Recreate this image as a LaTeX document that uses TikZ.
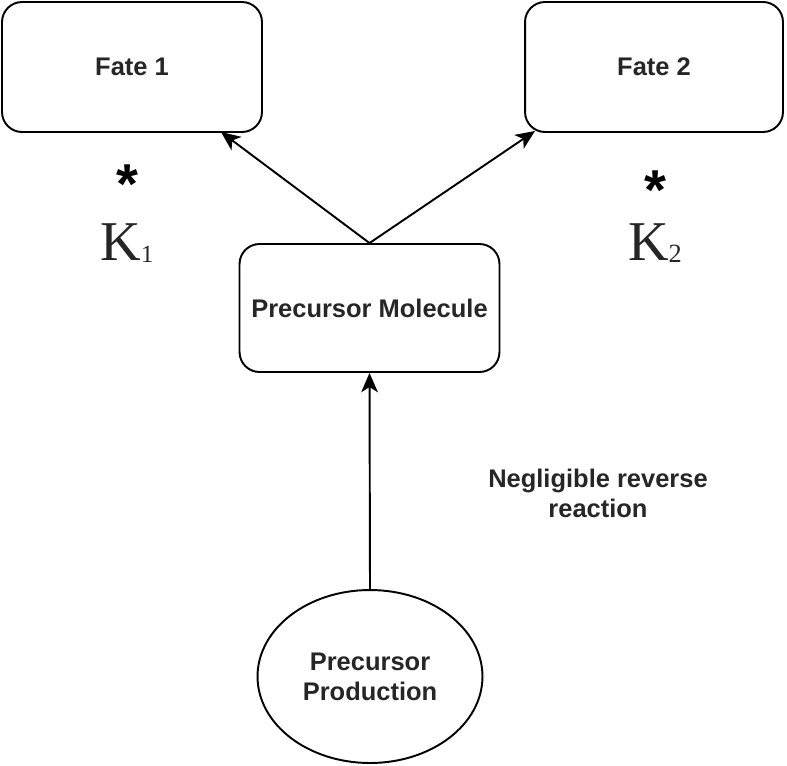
\documentclass[tikz,border=0pt]{standalone}
\usepackage{fontspec}
\setmainfont{Liberation Sans}
\newfontfamily\kfont{Liberation Serif}
\usetikzlibrary{arrows.meta,shapes.geometric}
\begin{document}
\begin{tikzpicture}[x=0.02cm,y=-0.02cm,
  lbl/.style={font=\fontsize{14.5}{17}\selectfont\bfseries, align=center, text=black!85},
  box/.style={lbl, draw, line width=1.1pt, rounded corners=0.4cm, inner sep=0pt},
  oval/.style={lbl, draw, ellipse, line width=1.1pt, inner sep=0pt},
  arr/.style={line width=1.1pt, -{Stealth[length=11pt,width=9.5pt,inset=3pt]}},
  rate/.style={align=center, inner sep=0pt, anchor=base}]
\useasboundingbox (0,0) rectangle (787,765);
\node[box, minimum width=5.2cm, minimum height=2.6cm] (f1) at (132,67) {Fate 1};
\node[box, minimum width=5.16cm, minimum height=2.6cm] (f2) at (654,67) {Fate 2};
\node[box, minimum width=5.2cm, minimum height=2.56cm] (pm) at (369.5,308) {Precursor Molecule};
\node[oval, minimum width=4.5cm, minimum height=3.46cm] (pp) at (370,676.5) {Precursor\\Production};
\node[lbl] (nr) at (598,493) {Negligible reverse\\reaction};
\node[rate, font=\fontsize{32}{32.3}\selectfont] (k1) at (127,260) {{\bfseries *}\\{\kfont\color{black!85}K{\fontsize{14}{14}\selectfont\raisebox{-1.5pt}{1}}}};
\node[rate, font=\fontsize{32}{29}\selectfont] (k2) at (655,260) {{\bfseries *}\\{\kfont\color{black!85}K{\fontsize{15}{15}\selectfont\raisebox{-1.5pt}{2}}}};
\coordinate (t1) at (221,132);
\coordinate (t2) at (535,131);
\draw[arr] (pm.north) -- (t1);
\draw[arr] (pm.north) -- (t2);
\draw[arr] (pp.north) -- (pm.south);
\end{tikzpicture}
\end{document}
